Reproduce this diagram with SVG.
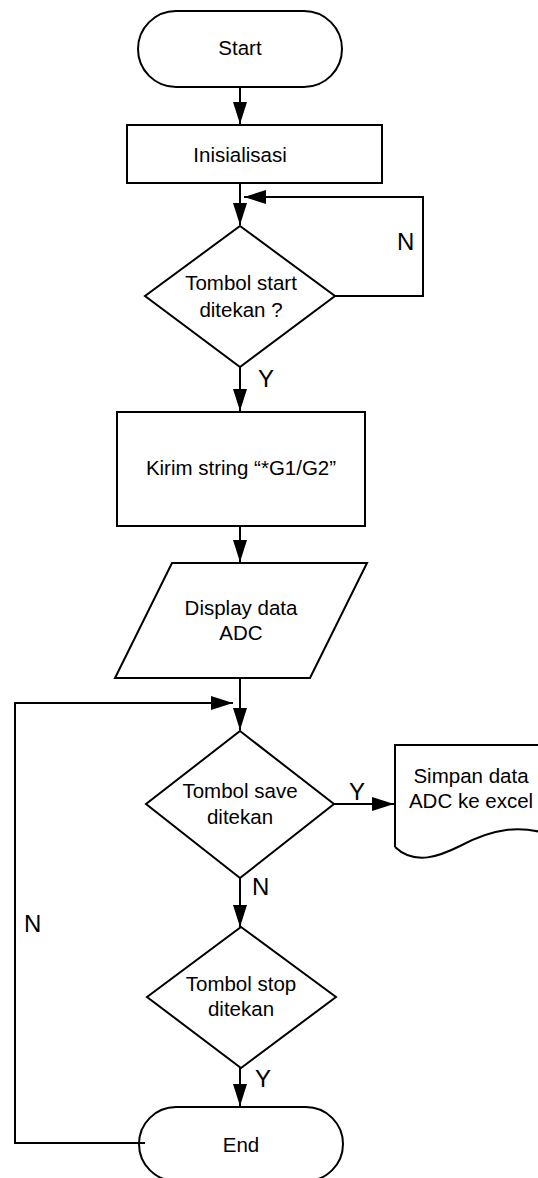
<svg xmlns="http://www.w3.org/2000/svg" width="538" height="1178" viewBox="0 0 538 1178">
<style>
.shape{fill:none;stroke:#000;stroke-width:2}
.line{fill:none;stroke:#000;stroke-width:2}
.t{font-family:"Liberation Sans",Arial,sans-serif;font-size:20.5px;fill:#000;text-anchor:middle}
.lbl{font-family:"Liberation Sans",Arial,sans-serif;font-size:24px;fill:#000}
</style>
<defs>
<marker id="ah" markerUnits="userSpaceOnUse" markerWidth="22" markerHeight="14" refX="22" refY="7" orient="auto">
<path d="M0,0 L22,7 L0,14 z" fill="#000"/>
</marker>
</defs>
<rect width="538" height="1178" fill="#fff"/>
<g id="connectors">
<line class="line" x1="240" y1="87" x2="240" y2="124" marker-end="url(#ah)"/>
<line class="line" x1="240" y1="183" x2="240" y2="225" marker-end="url(#ah)"/>
<polyline class="line" points="335,296 423,296 423,197 244,197" marker-end="url(#ah)"/>
<line class="line" x1="240" y1="367" x2="240" y2="411" marker-end="url(#ah)"/>
<line class="line" x1="240" y1="526" x2="240" y2="562" marker-end="url(#ah)"/>
<line class="line" x1="240" y1="678" x2="240" y2="730" marker-end="url(#ah)"/>
<polyline class="line" points="145,1143 15,1143 15,703 233,703" marker-end="url(#ah)"/>
<line class="line" x1="334" y1="804" x2="394" y2="804" marker-end="url(#ah)"/>
<line class="line" x1="240" y1="878" x2="240" y2="927" marker-end="url(#ah)"/>
<line class="line" x1="240" y1="1068" x2="240" y2="1106" marker-end="url(#ah)"/>
<text class="lbl" x="397" y="250">N</text>
<text class="lbl" x="258" y="387">Y</text>
<text class="lbl" x="349" y="800">Y</text>
<text class="lbl" x="252" y="895">N</text>
<text class="lbl" x="24" y="932">N</text>
<text class="lbl" x="255" y="1087">Y</text>
</g>
<g id="start">
<rect class="shape" x="138" y="11" width="204" height="76" rx="38"/>
<text class="t" x="240" y="55">Start</text>
</g>
<g id="init">
<rect class="shape" x="127" y="125" width="255" height="58"/>
<text class="t" x="240" y="162">Inisialisasi</text>
</g>
<g id="decision-start">
<polygon class="shape" points="240,226 335,296 240,367 145,296"/>
<text class="t" x="241" y="290">Tombol start</text>
<text class="t" x="241" y="317">ditekan ?</text>
</g>
<g id="kirim">
<rect class="shape" x="117" y="412" width="248" height="114"/>
<text class="t" x="241" y="475">Kirim string “*G1/G2”</text>
</g>
<g id="display">
<polygon class="shape" points="172,563 367,563 310,678 115,678"/>
<text class="t" x="241" y="615">Display data</text>
<text class="t" x="241" y="640">ADC</text>
</g>
<g id="decision-save">
<polygon class="shape" points="240,731 334,804 240,878 146,804"/>
<text class="t" x="240" y="798">Tombol save</text>
<text class="t" x="240" y="824">ditekan</text>
</g>
<g id="simpan">
<path class="shape" d="M395,847 L395,745 L560,745 L560,838 C520,822 490,830 460,846 C440,856 415,866 395,847"/>
<text class="t" x="471" y="783">Simpan data</text>
<text class="t" x="471" y="808">ADC ke excel</text>
</g>
<g id="decision-stop">
<polygon class="shape" points="241,927 336,997 241,1068 147,997"/>
<text class="t" x="241" y="991">Tombol stop</text>
<text class="t" x="241" y="1016">ditekan</text>
</g>
<g id="end">
<rect class="shape" x="139" y="1107" width="204" height="74" rx="37"/>
<text class="t" x="241" y="1152">End</text>
</g>
</svg>
